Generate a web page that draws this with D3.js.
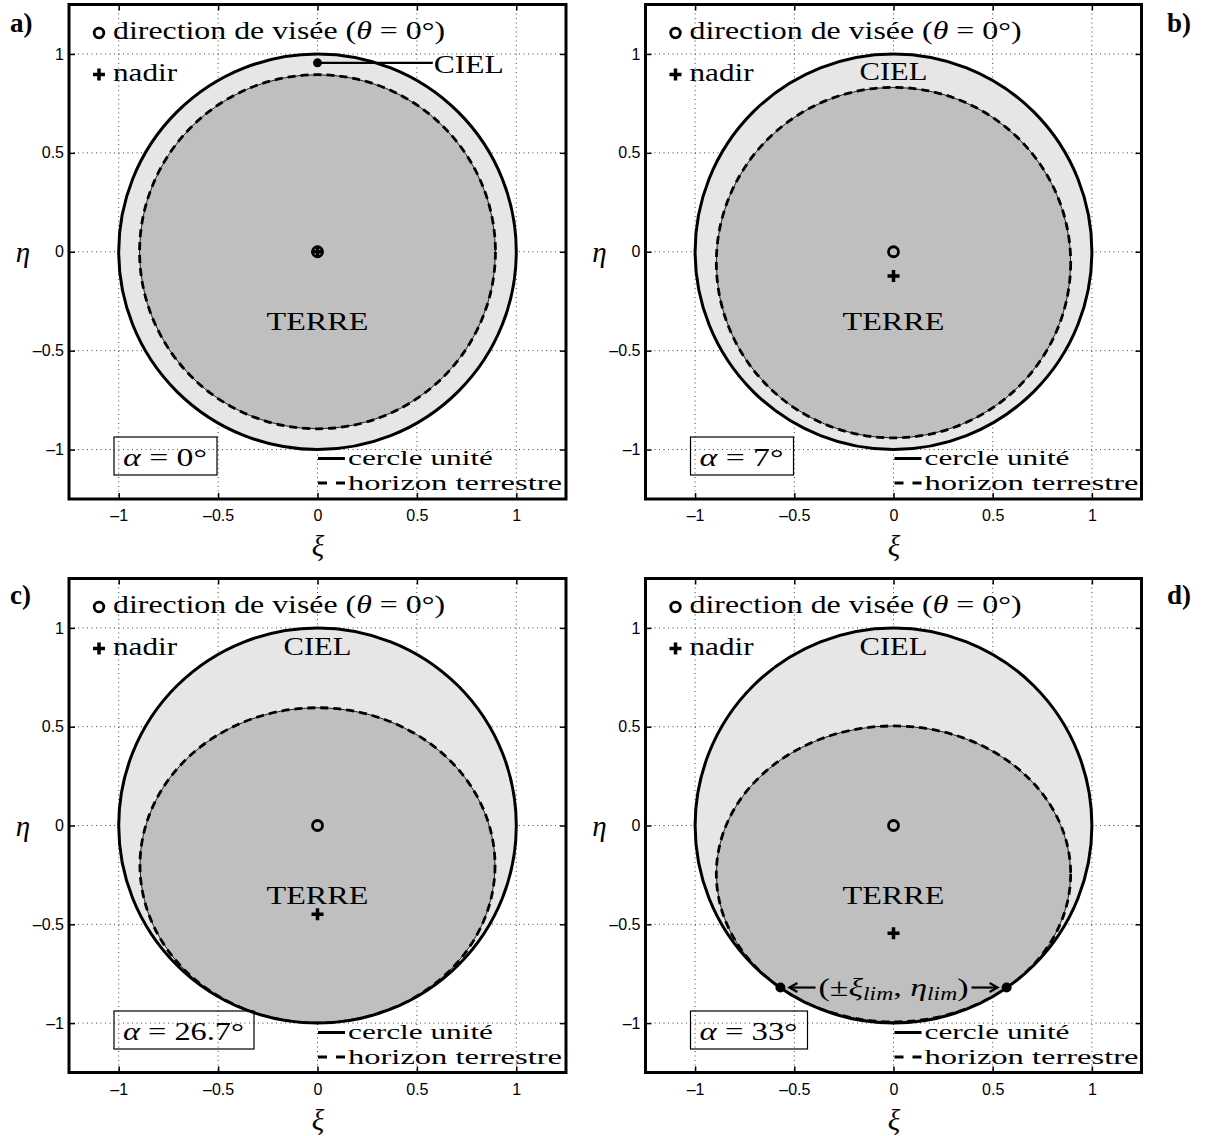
<!DOCTYPE html>
<html><head><meta charset="utf-8">
<script src="https://cdn.jsdelivr.net/npm/d3@7"></script>
<style>
body{margin:0;background:#fff} svg{display:block}
.serif{font-family:"Liberation Serif","Times New Roman",Times,serif}
.sans{font-family:"Liberation Sans",Arial,Helvetica,sans-serif}
</style>
</head><body>
<script>
// ---------- data ----------
const panelLabels = ["a)", "b)", "c)", "d)"];
const alphaLabels = ["0°", "7°", "26.7°", "33°"];
const sightXi = [0, 0, 0, 0];
const sightEta = [0, 0, 0, 0];
const nadirXi = [0, 0, 0, 0];
const nadirEta = [0, -0.122, -0.449, -0.545];
const horizonCenterEta = [0, -0.055, -0.202, -0.245];
const horizonSemiXi = [0.895, 0.893, 0.893, 0.893];
const horizonSemiEta = [0.895, 0.886, 0.798, 0.749];
const unitRadius = 1;
const cielPointXi = 0, cielPointEta = 0.955;      // panel a annotation
const cielLineEndXi = 0.58;
const cielLabelEta = [0.904, 0.866, 0.862, 0.862];
const terreLabelEta = -0.397;
const limXi = [-0.57, 0.57];
const limEta = -0.82;
const tickValues = [-1, -0.5, 0, 0.5, 1];
const tickLabels = ["–1", "–0.5", "0", "0.5", "1"];
const axisDomain = [-1.25, 1.25];

// ---------- layout ----------
const W = 1207, H = 1136;
const layouts = [
  {l: 69, r: 566, t: 4.5, b: 499, lab: [10, 32], aw: 84},
  {l: 645.5, r: 1141.5, t: 4.5, b: 499, lab: [1167, 32], aw: 84},
  {l: 69, r: 566, t: 578.5, b: 1072.5, lab: [10, 604], aw: 121},
  {l: 645.5, r: 1141.5, t: 578.5, b: 1072.5, lab: [1167, 604], aw: 98}
];
const FS = 26;

const svg = d3.select("body").append("svg").attr("width", W).attr("height", H);
const defs = svg.append("defs");

function stext(g, xx, yy, size) {
  return g.append("text").attr("class", "serif").attr("x", xx).attr("y", yy)
    .style("font-size", size + "px");
}

layouts.forEach((L, i) => {
  const x = d3.scaleLinear().domain(axisDomain).range([L.l, L.r]);
  const y = d3.scaleLinear().domain(axisDomain).range([L.b, L.t]);
  const g = svg.append("g");

  // grid
  const grid = g.append("g").attr("stroke", "#444").attr("stroke-width", 1).attr("stroke-dasharray", "1,3.5");
  tickValues.forEach(v => {
    grid.append("line").attr("x1", x(v)).attr("x2", x(v)).attr("y1", L.t).attr("y2", L.b);
    grid.append("line").attr("y1", y(v)).attr("y2", y(v)).attr("x1", L.l).attr("x2", L.r);
  });

  const cx0 = x(0), cy0 = y(0);
  const urx = x(unitRadius) - x(0), ury = y(0) - y(unitRadius);

  const clipId = "clip" + i;
  defs.append("clipPath").attr("id", clipId)
    .append("ellipse").attr("cx", cx0).attr("cy", cy0).attr("rx", urx).attr("ry", ury);

  // sky
  g.append("ellipse").attr("cx", cx0).attr("cy", cy0).attr("rx", urx).attr("ry", ury)
    .attr("fill", "#e6e6e6").attr("stroke", "none");

  // earth
  const ecx = x(0), ecy = y(horizonCenterEta[i]);
  const erx = x(horizonSemiXi[i]) - x(0), ery = y(0) - y(horizonSemiEta[i]);
  const eg = g.append("g").attr("clip-path", `url(#${clipId})`);
  eg.append("ellipse").attr("cx", ecx).attr("cy", ecy).attr("rx", erx).attr("ry", ery)
    .attr("fill", "#bfbfbf").attr("stroke", "#222").attr("stroke-width", 1);
  eg.append("ellipse").attr("cx", ecx).attr("cy", ecy).attr("rx", erx).attr("ry", ery)
    .attr("fill", "none").attr("stroke", "#000").attr("stroke-width", 2.8).attr("stroke-dasharray", "8,5");

  // unit circle
  g.append("ellipse").attr("cx", cx0).attr("cy", cy0).attr("rx", urx).attr("ry", ury)
    .attr("fill", "none").attr("stroke", "#000").attr("stroke-width", 3);

  // CIEL / TERRE
  if (i === 0) {
    g.append("line").attr("x1", x(cielPointXi)).attr("y1", y(cielPointEta))
      .attr("x2", x(cielLineEndXi)).attr("y2", y(cielPointEta))
      .attr("stroke", "#000").attr("stroke-width", 2.2);
    g.append("circle").attr("cx", x(cielPointXi)).attr("cy", y(cielPointEta)).attr("r", 4.5).attr("fill", "#000");
    stext(g, x(cielLineEndXi) + 1, y(cielLabelEta[i]), FS)
      .attr("textLength", 70).attr("lengthAdjust", "spacingAndGlyphs").text("CIEL");
  } else {
    stext(g, x(0), y(cielLabelEta[i]), FS).attr("text-anchor", "middle")
      .attr("textLength", 68).attr("lengthAdjust", "spacingAndGlyphs").text("CIEL");
  }
  stext(g, x(0), y(terreLabelEta), FS).attr("text-anchor", "middle")
    .attr("textLength", 102).attr("lengthAdjust", "spacingAndGlyphs").text("TERRE");

  // markers
  g.append("circle").attr("cx", x(sightXi[i])).attr("cy", y(sightEta[i])).attr("r", 5)
    .attr("fill", "none").attr("stroke", "#000").attr("stroke-width", 2.8);
  const plus = (px, py) => {
    g.append("path").attr("d", `M${px - 6},${py}H${px + 6}M${px},${py - 6}V${py + 6}`)
      .attr("stroke", "#000").attr("stroke-width", 3.5).attr("fill", "none");
  };
  plus(x(nadirXi[i]), y(nadirEta[i]));

  // lim points (panel d)
  if (i === 3) {
    const ly = y(limEta);
    limXi.forEach(v => {
      g.append("circle").attr("cx", x(v)).attr("cy", ly).attr("r", 5).attr("fill", "#000");
    });
    const t = stext(g, x(0), ly + 8, FS).attr("text-anchor", "middle")
      .attr("textLength", 150).attr("lengthAdjust", "spacingAndGlyphs");
    t.append("tspan").text("(±");
    t.append("tspan").style("font-style", "italic").text("ξ");
    t.append("tspan").style("font-style", "italic").style("font-size", "18px").attr("dy", 4).text("lim");
    t.append("tspan").attr("dy", -4).text(", ");
    t.append("tspan").style("font-style", "italic").text("η");
    t.append("tspan").style("font-style", "italic").style("font-size", "18px").attr("dy", 4).text("lim");
    t.append("tspan").attr("dy", -4).text(")");
    const bb = t.node().getBBox();
    const arrow = (x1, x2) => {
      const dir = Math.sign(x2 - x1);
      g.append("line").attr("x1", x1).attr("y1", ly).attr("x2", x2).attr("y2", ly)
        .attr("stroke", "#000").attr("stroke-width", 2.2);
      g.append("path").attr("d", `M${x2 - dir * 8},${ly - 4.5}L${x2},${ly}L${x2 - dir * 8},${ly + 4.5}`)
        .attr("stroke", "#000").attr("stroke-width", 2.2).attr("fill", "none");
    };
    arrow(bb.x - 3, x(limXi[0]) + 9);
    arrow(bb.x + bb.width + 3, x(limXi[1]) - 9);
  }

  // top-left legend
  g.append("circle").attr("cx", L.l + 30).attr("cy", L.t + 28.5).attr("r", 4.8)
    .attr("fill", "none").attr("stroke", "#000").attr("stroke-width", 2.8);
  const t1 = stext(g, L.l + 44, L.t + 34.5, FS)
    .attr("textLength", 332).attr("lengthAdjust", "spacingAndGlyphs");
  t1.append("tspan").text("direction de visée (");
  t1.append("tspan").style("font-style", "italic").text("θ");
  t1.append("tspan").text(" = 0°)");
  g.append("path").attr("d", `M${L.l + 24},${L.t + 70}H${L.l + 36}M${L.l + 30},${L.t + 64}V${L.t + 76}`)
    .attr("stroke", "#000").attr("stroke-width", 3.5);
  stext(g, L.l + 44, L.t + 76.5, FS)
    .attr("textLength", 64).attr("lengthAdjust", "spacingAndGlyphs").text("nadir");

  // alpha box
  const ta = stext(g, L.l + 54, L.t + 461, 25)
    .attr("textLength", L.aw).attr("lengthAdjust", "spacingAndGlyphs");
  ta.append("tspan").style("font-style", "italic").text("α");
  ta.append("tspan").text(" = " + alphaLabels[i]);
  const ab = ta.node().getBBox();
  g.append("rect").attr("x", ab.x - 9).attr("y", L.t + 432.5).attr("width", ab.width + 19).attr("height", 38)
    .attr("fill", "none").attr("stroke", "#000").attr("stroke-width", 1.2);

  // bottom-right legend
  g.append("line").attr("x1", L.l + 249).attr("x2", L.l + 276).attr("y1", L.t + 454).attr("y2", L.t + 454)
    .attr("stroke", "#000").attr("stroke-width", 3);
  stext(g, L.l + 279, L.t + 460.5, 21.5)
    .attr("textLength", 145).attr("lengthAdjust", "spacingAndGlyphs").text("cercle unité");
  g.append("line").attr("x1", L.l + 249).attr("x2", L.l + 276).attr("y1", L.t + 478.5).attr("y2", L.t + 478.5)
    .attr("stroke", "#000").attr("stroke-width", 2.8).attr("stroke-dasharray", "9,9");
  stext(g, L.l + 279, L.t + 485, 21.5)
    .attr("textLength", 214).attr("lengthAdjust", "spacingAndGlyphs").text("horizon terrestre");

  // axes
  const fmt = (d) => tickLabels[tickValues.indexOf(d)];
  const styleAxis = sel => {
    sel.select(".domain").remove();
    sel.attr("font-family", null).attr("font-size", null);
    sel.selectAll(".tick line").attr("stroke", "#000").attr("stroke-width", 1.5);
    sel.selectAll("text").attr("class", "sans").style("font-size", "16px").attr("fill", "#000");
  };
  g.append("g").attr("transform", `translate(0,${L.b})`)
    .call(d3.axisBottom(x).tickValues(tickValues).tickFormat(fmt).tickSizeInner(-6).tickSizeOuter(0).tickPadding(11))
    .call(styleAxis);
  g.append("g").attr("transform", `translate(${L.l},0)`)
    .call(d3.axisLeft(y).tickValues(tickValues).tickFormat(fmt).tickSizeInner(-6).tickSizeOuter(0).tickPadding(5))
    .call(styleAxis);
  g.append("g").attr("transform", `translate(0,${L.t})`)
    .call(d3.axisTop(x).tickValues(tickValues).tickFormat("").tickSizeInner(-6).tickSizeOuter(0))
    .call(styleAxis);
  g.append("g").attr("transform", `translate(${L.r},0)`)
    .call(d3.axisRight(y).tickValues(tickValues).tickFormat("").tickSizeInner(-6).tickSizeOuter(0))
    .call(styleAxis);

  // frame
  g.append("rect").attr("x", L.l).attr("y", L.t).attr("width", L.r - L.l).attr("height", L.b - L.t)
    .attr("fill", "none").attr("stroke", "#000").attr("stroke-width", 3);

  // axis labels
  stext(g, (L.l + L.r) / 2 + 0.5, L.b + 47, 29).attr("text-anchor", "middle")
    .attr("dominant-baseline", "central").style("font-style", "italic").text("ξ");
  stext(g, L.l - 46, y(0), 29).attr("text-anchor", "middle")
    .attr("dominant-baseline", "central").style("font-style", "italic").text("η");

  // panel label
  stext(svg, L.lab[0], L.lab[1], 27).style("font-weight", "bold").text(panelLabels[i]);
});
</script>
</body></html>
